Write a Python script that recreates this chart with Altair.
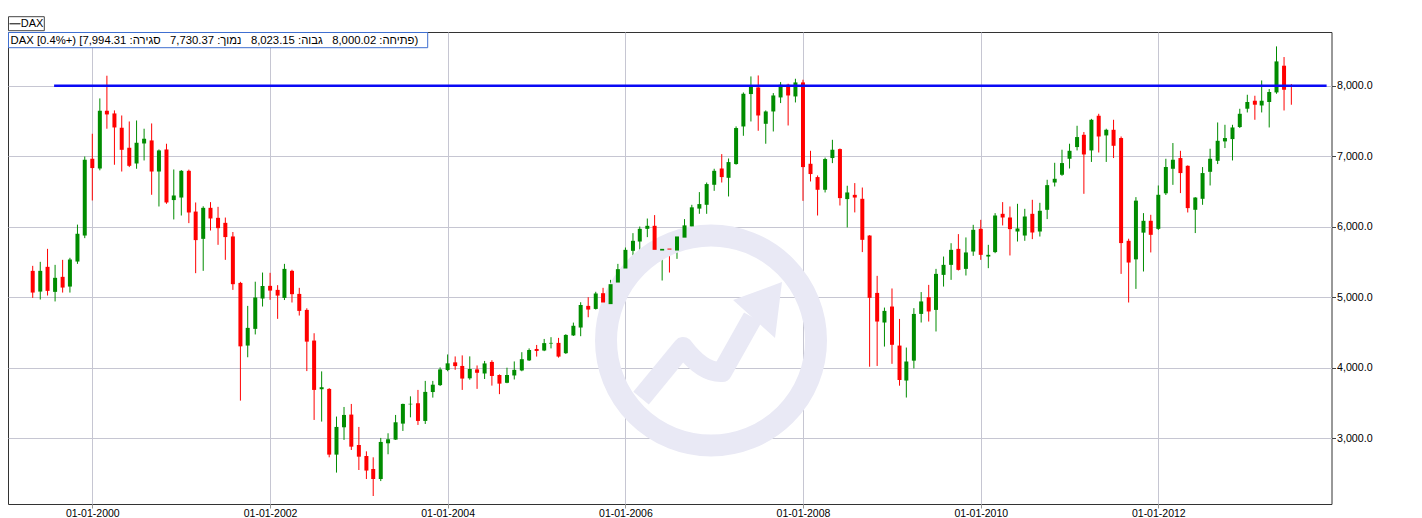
import altair as alt
import pandas as pd

# ---------------- data (monthly DAX candles) ----------------
months = [
    "1999-05", "1999-06", "1999-07", "1999-08", "1999-09", "1999-10", "1999-11", "1999-12",
    "2000-01", "2000-02", "2000-03", "2000-04", "2000-05", "2000-06", "2000-07", "2000-08", "2000-09", "2000-10", "2000-11", "2000-12",
    "2001-01", "2001-02", "2001-03", "2001-04", "2001-05", "2001-06", "2001-07", "2001-08", "2001-09", "2001-10", "2001-11", "2001-12",
    "2002-01", "2002-02", "2002-03", "2002-04", "2002-05", "2002-06", "2002-07", "2002-08", "2002-09", "2002-10", "2002-11", "2002-12",
    "2003-01", "2003-02", "2003-03", "2003-04", "2003-05", "2003-06", "2003-07", "2003-08", "2003-09", "2003-10", "2003-11", "2003-12",
    "2004-01", "2004-02", "2004-03", "2004-04", "2004-05", "2004-06", "2004-07", "2004-08", "2004-09", "2004-10", "2004-11", "2004-12",
    "2005-01", "2005-02", "2005-03", "2005-04", "2005-05", "2005-06", "2005-07", "2005-08", "2005-09", "2005-10", "2005-11", "2005-12",
    "2006-01", "2006-02", "2006-03", "2006-04", "2006-05", "2006-06", "2006-07", "2006-08", "2006-09", "2006-10", "2006-11", "2006-12",
    "2007-01", "2007-02", "2007-03", "2007-04", "2007-05", "2007-06", "2007-07", "2007-08", "2007-09", "2007-10", "2007-11", "2007-12",
    "2008-01", "2008-02", "2008-03", "2008-04", "2008-05", "2008-06", "2008-07", "2008-08", "2008-09", "2008-10", "2008-11", "2008-12",
    "2009-01", "2009-02", "2009-03", "2009-04", "2009-05", "2009-06", "2009-07", "2009-08", "2009-09", "2009-10", "2009-11", "2009-12",
    "2010-01", "2010-02", "2010-03", "2010-04", "2010-05", "2010-06", "2010-07", "2010-08", "2010-09", "2010-10", "2010-11", "2010-12",
    "2011-01", "2011-02", "2011-03", "2011-04", "2011-05", "2011-06", "2011-07", "2011-08", "2011-09", "2011-10", "2011-11", "2011-12",
    "2012-01", "2012-02", "2012-03", "2012-04", "2012-05", "2012-06", "2012-07", "2012-08", "2012-09", "2012-10", "2012-11", "2012-12",
    "2013-01", "2013-02", "2013-03", "2013-04", "2013-05", "2013-06", "2013-07",
]

opens = [
    5374, 5080, 5431, 5076, 5289, 5151, 5506, 5875,
    6964, 6826, 7645, 7607, 7404, 7120, 6897, 7181, 7224, 6783, 7096, 6378,
    6414, 6793, 6215, 5828, 6268, 6126, 6055, 5862, 5203, 4314, 4551, 4982,
    5161, 5104, 4990, 5374, 5047, 4820, 4385, 3695, 3699, 2767, 3155, 3335,
    2904, 2748, 2563, 2421, 2928, 2980, 3207, 3480, 3496, 3245, 3655, 3753,
    3967, 4076, 4025, 3850, 3976, 3918, 4082, 3897, 3786, 3890, 3961, 4104,
    4266, 4244, 4343, 4352, 4206, 4458, 4570, 4877, 4834, 5057, 4902, 5208,
    5407, 5658, 5790, 5970, 6013, 5662, 5690, 5662, 5845, 6005, 6257, 6311,
    6595, 6826, 6694, 6889, 7422, 7882, 7976, 7460, 7635, 7834, 8014, 7848,
    8047, 6893, 6704, 6524, 6974, 7101, 6392, 6452, 6396, 5875, 5061, 4641,
    4868, 4314, 3818, 4100, 4763, 5000, 4820, 5317, 5459, 5686, 5402, 5648,
    5970, 5577, 5640, 6183, 6131, 5932, 5875, 6183, 5932, 6240, 6627, 6737,
    6964, 7130, 7304, 7082, 7574, 7295, 7375, 7258, 5800, 5537, 5916, 6084,
    5970, 6474, 6822, 6974, 6864, 6240, 6396, 6779, 6935, 7210, 7243, 7414,
    7674, 7787, 7720, 7769, 7905, 8284, 8000.02,
]

highs = [
    5445, 5502, 5686, 5459, 5530, 5559, 6030, 6996,
    7319, 7820, 8142, 7650, 7578, 7493, 7507, 7390, 7465, 7096, 7177, 6812,
    6803, 6810, 6344, 6290, 6349, 6282, 6130, 5925, 5218, 4877, 5220, 5350,
    5346, 5171, 5473, 5390, 5133, 4843, 4489, 3948, 3710, 3307, 3443, 3486,
    3160, 2814, 2729, 3004, 3070, 3330, 3490, 3594, 3685, 3813, 3813, 4004,
    4188, 4160, 4175, 4161, 4032, 4096, 4106, 3905, 4000, 4089, 4220, 4274,
    4323, 4408, 4433, 4423, 4475, 4640, 4929, 5000, 5077, 5133, 5246, 5473,
    5705, 5909, 6003, 6116, 6165, 5786, 5729, 5885, 6108, 6311, 6491, 6627,
    6822, 7030, 6968, 7423, 7905, 8132, 8146, 7650, 7896, 8052, 8028, 8099,
    8085, 7077, 6727, 6980, 7233, 7110, 6581, 6619, 6556, 5880, 5303, 4853,
    5124, 4692, 4286, 4845, 5073, 5175, 5402, 5577, 5766, 5895, 5848, 6027,
    6098, 5743, 6193, 6349, 6287, 6325, 6254, 6382, 6339, 6666, 6907, 7092,
    7177, 7432, 7343, 7530, 7602, 7390, 7517, 7280, 5830, 6420, 6193, 6169,
    6585, 6964, 7187, 7077, 6870, 6420, 6846, 7106, 7479, 7446, 7446, 7673,
    7872, 7858, 8075, 7953, 8558, 8407, 8023.15,
]

lows = [
    4991, 4967, 5024, 4940, 5066, 5066, 5473, 5838,
    6372, 6800, 7390, 6879, 6783, 6846, 6822, 6940, 6453, 6287, 6325, 6103,
    6159, 6051, 5341, 5374, 5946, 5743, 5530, 5104, 3533, 4148, 4472, 4868,
    4963, 4693, 4960, 4925, 4740, 3952, 3259, 3236, 2729, 2512, 2976, 2833,
    2549, 2421, 2180, 2392, 2772, 2976, 3103, 3296, 3188, 3202, 3576, 3740,
    3950, 3970, 3685, 3830, 3700, 3840, 3746, 3625, 3780, 3833, 3950, 4095,
    4158, 4235, 4274, 4143, 4195, 4450, 4447, 4716, 4825, 4750, 4890, 5200,
    5280, 5592, 5648, 5852, 5502, 5237, 5350, 5544, 5776, 5932, 6183, 6183,
    6509, 6627, 6429, 6880, 7290, 7493, 7361, 7177, 7351, 7754, 7436, 7763,
    6367, 6642, 6159, 6486, 6902, 6301, 5990, 6203, 5640, 4014, 4025, 4300,
    4055, 3745, 3577, 3990, 4641, 4655, 4514, 5151, 5246, 5379, 5308, 5587,
    5530, 5412, 5625, 6018, 5592, 5790, 5800, 5824, 5861, 6108, 6571, 6722,
    6826, 7082, 6467, 6919, 7053, 6919, 6974, 5331, 4925, 5118, 5365, 5635,
    5955, 6450, 6594, 6477, 6202, 5910, 6311, 6585, 6889, 7116, 6940, 7400,
    7621, 7517, 7621, 7408, 7886, 7649, 7730.37,
]

closes = [
    5066, 5374, 5090, 5275, 5137, 5535, 5900, 6950,
    6832, 7645, 7593, 7408, 7091, 6864, 7191, 7248, 6783, 7082, 6344, 6443,
    6793, 6202, 5810, 6268, 6117, 5980, 5853, 5185, 4303, 4565, 4996, 5160,
    5094, 5023, 5402, 5043, 4806, 4370, 3685, 3723, 2767, 3160, 3330, 2880,
    2738, 2541, 2421, 2947, 2985, 3226, 3486, 3488, 3245, 3657, 3759, 3976,
    4062, 4023, 3846, 3982, 3928, 4061, 3883, 3774, 3897, 3970, 4121, 4251,
    4238, 4349, 4352, 4158, 4465, 4595, 4890, 4825, 5053, 4925, 5185, 5398,
    5672, 5800, 5970, 6013, 5672, 5686, 5676, 5862, 6019, 6275, 6321, 6605,
    6793, 6704, 6917, 7400, 7886, 7990, 7578, 7635, 7862, 8014, 7862, 8047,
    6846, 6747, 6524, 6960, 7092, 6406, 6486, 6414, 5814, 4991, 4655, 4806,
    4325, 3826, 4088, 4763, 4940, 4798, 5331, 5459, 5672, 5388, 5635, 5956,
    5601, 5601, 6159, 6131, 5966, 5975, 6145, 5918, 6226, 6590, 6680, 6903,
    7077, 7272, 7025, 7517, 7280, 7375, 7148, 5768, 5492, 6370, 6084, 5885,
    6453, 6847, 6950, 6761, 6264, 6414, 6761, 6964, 7219, 7258, 7408, 7602,
    7769, 7731, 7787, 7911, 8345, 7943, 7994.31,
]

level_dates = ["1999-07-28", "2013-11-23"]
level_values = [8000, 8000]

x_tick_dates = ["2000-01-01", "2002-01-01", "2004-01-01", "2006-01-01",
                "2008-01-01", "2010-01-01", "2012-01-01"]
y_ticks = [3000, 4000, 5000, 6000, 7000, 8000]

legend_label = "DAX"
GAP = " \u00A0\u00A0"
info_label = ("DAX " + "\u202B" +
              "(פתיחה: 8,000.02" + GAP + "גבוה: 8,023.15" + GAP +
              "נמוך: 7,730.37" + GAP + "סגירה: 7,994.31] (+0.4%]"
              + "\u202C")

# ---------------- helpers ----------------
def ms(s):
    return int(pd.Timestamp(s, tz="UTC").value // 10**6)

DAY = 86400000
x_domain = [ms("2000-01-01") - int(346.6 * DAY), ms("2012-01-01") + int(712.1 * DAY)]
y_domain = [2066.7, 8762.2]

GREEN = "#008c00"
RED = "#ff0000"
GRID = "#c6c6d2"
WM = "#e9e9f5"
FONT = "Liberation Sans"

df = pd.DataFrame({
    "t": [ms(m + "-01") for m in months],
    "open": opens, "high": highs, "low": lows, "close": closes,
})
level_df = pd.DataFrame({"t": [ms(d) for d in level_dates], "v": level_values})
one = alt.Data(values=[{"k": 1}])

xscale = alt.Scale(type="utc", domain=x_domain, nice=False, padding=0)
yscale = alt.Scale(domain=y_domain, nice=False, zero=False, padding=0)

xaxis = alt.Axis(values=[ms(d) for d in x_tick_dates], format="%d-%m-%Y", title=None,
                 grid=True, gridColor=GRID, gridWidth=1, domain=False,
                 tickSize=4, tickColor="#999999", labelPadding=0,
                 labelFont=FONT, labelFontSize=10.5, labelColor="#000000",
                 labelFlush=False, labelOverlap=False)
yaxis = alt.Axis(values=y_ticks, format=",.1f", orient="right", title=None,
                 grid=True, gridColor=GRID, gridWidth=1, domain=False,
                 tickSize=4, tickColor="#444444", labelPadding=1,
                 labelFont=FONT, labelFontSize=10.7, labelColor="#000000",
                 labelFlush=False, labelOverlap=False)

updown = alt.condition("datum.close >= datum.open", alt.value(GREEN), alt.value(RED))

# ---------------- watermark ----------------
ring = alt.Chart(one).mark_point(shape="circle", filled=False, size=44100, strokeWidth=22,
                                 stroke=WM, opacity=1).encode(
    x=alt.value(703), y=alt.value(308.5))
wave_path = "M -0.603 0.496 L -0.241 0.056 Q -0.07 0.28 0.095 0.272 L 0.36 -0.2"
wave = alt.Chart(one).mark_point(shape=wave_path, filled=False, size=53824, strokeWidth=20,
                                 stroke=WM, opacity=1, strokeJoin="round").encode(
    x=alt.value(703), y=alt.value(308.5))
head_path = "M 0.19 -0.349 L 0.612 -0.504 L 0.552 -0.022 Z"
head = alt.Chart(one).mark_point(shape=head_path, filled=True, size=53824, fill=WM,
                                 strokeWidth=0, opacity=1).encode(
    x=alt.value(703), y=alt.value(308.5))

# ---------------- candles ----------------
base = alt.Chart(df)
wicks = base.mark_rule(strokeWidth=1).encode(
    x=alt.X("t:T", scale=xscale, axis=xaxis),
    y=alt.Y("low:Q", scale=yscale, axis=yaxis),
    y2="high:Q",
    color=updown,
)
bodies = base.mark_bar(size=4).encode(
    x=alt.X("t:T", title=None),
    y=alt.Y("open:Q", title=None),
    y2="close:Q",
    color=updown,
)

level = alt.Chart(level_df).mark_line(color="#0a0af5", strokeWidth=2.6).encode(
    x=alt.X("t:T", title=None),
    y=alt.Y("v:Q", title=None),
)

# ---------------- legend boxes ----------------
box1 = alt.Chart(one).mark_rect(fill="#ffffff", stroke="#444444", strokeWidth=1).encode(
    x=alt.value(0.5), x2=alt.value(36.3), y=alt.value(-15.3), y2=alt.value(-1.3))
dash = alt.Chart(one).mark_rule(color="#000000", strokeWidth=1).encode(
    x=alt.value(1.5), x2=alt.value(12.5), y=alt.value(-8.2))
dax_text = alt.Chart(one).mark_text(text=legend_label, font=FONT, fontSize=11, align="left",
                                    baseline="middle", color="#000000").encode(
    x=alt.value(12.8), y=alt.value(-8.2))
box2 = alt.Chart(one).mark_rect(fill="#ffffff", stroke="#3f6fd0", strokeWidth=1).encode(
    x=alt.value(0.5), x2=alt.value(419.7), y=alt.value(0.5), y2=alt.value(15.7))
info_text = alt.Chart(one).mark_text(text=info_label, font=FONT, fontSize=11.3, align="left",
                                     baseline="alphabetic", color="#000000").encode(
    x=alt.value(2.5), y=alt.value(11.8))

chart = alt.layer(
    wicks, ring, wave, head, bodies, level, box1, dash, dax_text, box2, info_text
).resolve_scale(x="shared", y="shared").properties(
    width=1323.5,
    height=472,
    padding={"left": 0, "top": 24, "right": 82, "bottom": 14},
    autosize=alt.AutoSizeParams(type="none"),
    background="#ffffff",
).configure_view(
    stroke="#333333", strokeWidth=1
)

chart.save("out.html", embed_options={"renderer": "svg", "actions": False})
